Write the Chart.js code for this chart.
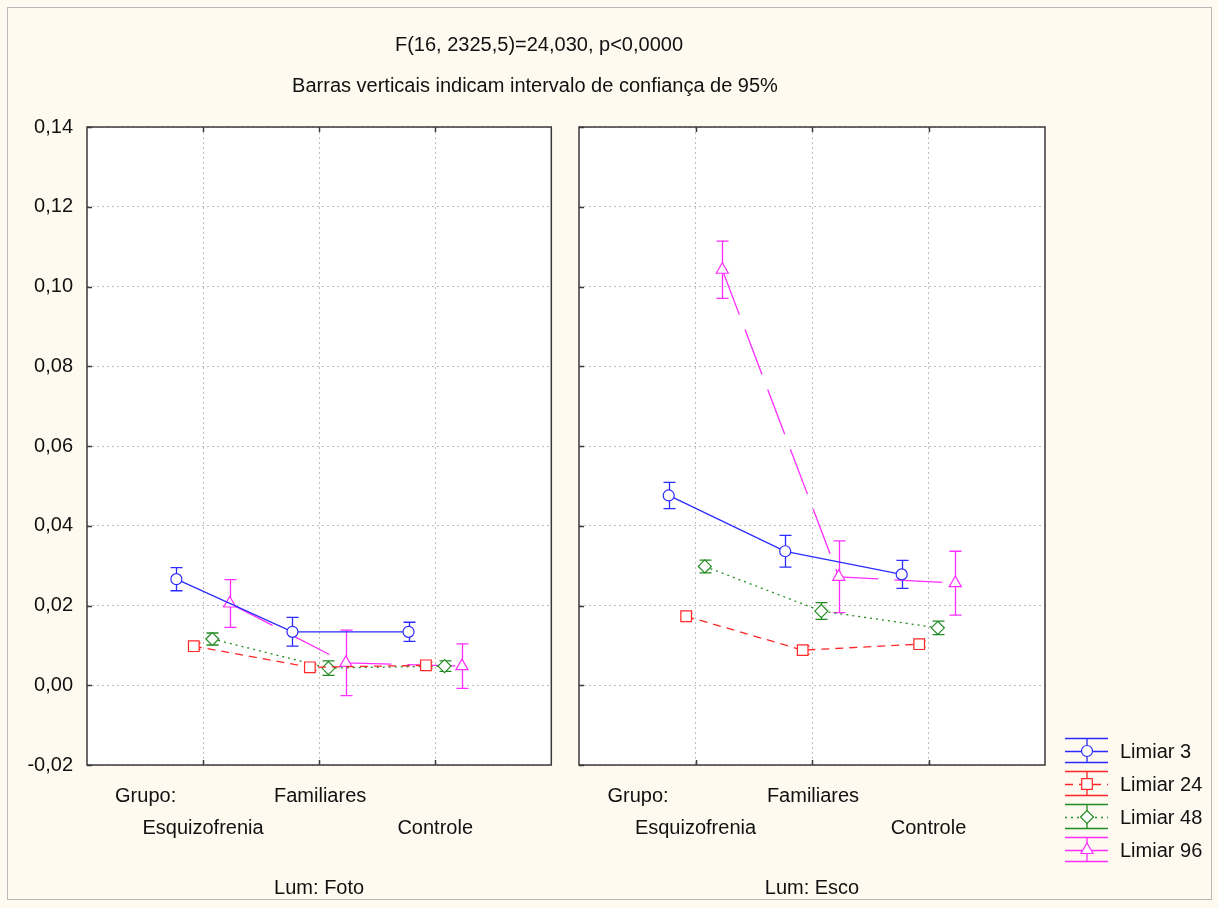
<!DOCTYPE html>
<html>
<head>
<meta charset="utf-8">
<script src="https://cdn.jsdelivr.net/npm/chart.js@4"></script>
<style>
  html, body { margin: 0; padding: 0; }
  body { width: 1218px; height: 908px; background: #fefaf0; position: relative; overflow: hidden;
         font-family: "Liberation Sans", Arial, sans-serif; color: #111; }
  #frame { position: absolute; left: 7px; top: 7px; width: 1205px; height: 893px; border: 1px solid #b8b8b8; box-sizing: border-box; }
  canvas { position: absolute; top: 0; }
  #c1 { left: 0; }
  #c2 { left: 560px; }
  .txt { position: absolute; font-size: 20px; white-space: nowrap; line-height: 1; }
  .ctr { transform: translate(-50%, -50%); }
  .lft { transform: translate(0, -50%); }
</style>
</head>
<body>
<div id="frame"></div>
<canvas id="c1" width="560" height="908"></canvas>
<canvas id="c2" width="658" height="908"></canvas>

<div class="txt ctr" style="left:539px; top:44px;">F(16, 2325,5)=24,030, p&lt;0,0000</div>
<div class="txt ctr" style="left:535px; top:85px;">Barras verticais indicam intervalo de confiança de 95%</div>

<div id="labels"></div>

<script>
// categories and series
const groups = ['Esquizofrenia', 'Familiares', 'Controle'];
const panels = ['Lum: Foto', 'Lum: Esco'];
const seriesNames = ['Limiar 3', 'Limiar 24', 'Limiar 48', 'Limiar 96'];
const yTicks = [-0.02, 0.00, 0.02, 0.04, 0.06, 0.08, 0.10, 0.12, 0.14];

// Lum: Foto - means and 95% CI half widths
const fotoLimiar3 = [0.0266, 0.0134, 0.0134];
const fotoLimiar3Err = [0.0029, 0.0036, 0.0024];
const fotoLimiar24 = [0.0098, 0.0045, 0.0050];
const fotoLimiar24Err = [0.0008, 0.0008, 0.0008];
const fotoLimiar48 = [0.0116, 0.0043, 0.0048];
const fotoLimiar48Err = [0.0015, 0.0018, 0.0013];
const fotoLimiar96 = [0.0205, 0.0056, 0.0048];
const fotoLimiar96Err = [0.0060, 0.0082, 0.0056];

// Lum: Esco
const escoLimiar3 = [0.0476, 0.0336, 0.0278];
const escoLimiar3Err = [0.0033, 0.0040, 0.0035];
const escoLimiar24 = [0.0173, 0.0088, 0.0103];
const escoLimiar24Err = [0.0008, 0.0010, 0.0008];
const escoLimiar48 = [0.0298, 0.0186, 0.0144];
const escoLimiar48Err = [0.0016, 0.0021, 0.0017];
const escoLimiar96 = [0.1042, 0.0272, 0.0256];
const escoLimiar96Err = [0.0072, 0.0090, 0.0080];

const fotoMeans = [fotoLimiar3, fotoLimiar24, fotoLimiar48, fotoLimiar96];
const fotoErrs = [fotoLimiar3Err, fotoLimiar24Err, fotoLimiar48Err, fotoLimiar96Err];
const escoMeans = [escoLimiar3, escoLimiar24, escoLimiar48, escoLimiar96];
const escoErrs = [escoLimiar3Err, escoLimiar24Err, escoLimiar48Err, escoLimiar96Err];

// look of each series
const colors = ['#2b2bff', '#ff2626', '#228b22', '#ff2cff'];
const dashes = [[], [8, 6], [2, 4], [48, 16]];
const markers = ['circle', 'rect', 'rectRot', 'triangle'];
const radii = [5.5, 7.5, 6.5, 7];
const offsets = [-0.23, -0.08, 0.08, 0.23];

const fmt = v => v.toFixed(2).replace('.', ',');

function makeDatasets(means, errs) {
    return seriesNames.map((name, s) => ({
        label: name,
        data: means[s].map((v, i) => ({ x: i + 1 + offsets[s], y: v })),
        errs: errs[s],
        borderColor: colors[s],
        borderWidth: 1.3,
        borderDash: dashes[s],
        pointStyle: markers[s],
        pointRadius: radii[s],
        pointBorderWidth: 1.2,
        pointBorderColor: colors[s],
        pointBackgroundColor: '#ffffff',
        tension: 0,
        fill: false
    }));
}

// white plot area + frame + inner ticks
const plotFrame = {
    id: 'plotFrame',
    beforeDraw(chart) {
        const a = chart.chartArea, ctx = chart.ctx;
        ctx.save();
        ctx.fillStyle = '#ffffff';
        ctx.fillRect(a.left, a.top, a.right - a.left, a.bottom - a.top);
        ctx.restore();
    },
    afterDraw(chart) {
        const a = chart.chartArea, ctx = chart.ctx;
        ctx.save();
        ctx.strokeStyle = '#3a3a3a';
        ctx.lineWidth = 1.5;
        ctx.strokeRect(a.left, a.top, a.right - a.left, a.bottom - a.top);
        ctx.beginPath();
        chart.scales.x.ticks.forEach(t => {
            const px = Math.round(chart.scales.x.getPixelForValue(t.value)) + 0.5;
            ctx.moveTo(px, a.bottom); ctx.lineTo(px, a.bottom - 5);
            ctx.moveTo(px, a.top); ctx.lineTo(px, a.top + 5);
        });
        chart.scales.y.ticks.forEach(t => {
            const py = Math.round(chart.scales.y.getPixelForValue(t.value)) + 0.5;
            ctx.moveTo(a.left, py); ctx.lineTo(a.left + 5, py);
        });
        ctx.stroke();
        ctx.restore();
    }
};

// vertical 95% CI bars
const errorBars = {
    id: 'errorBars',
    beforeDatasetsDraw(chart) {
        const ctx = chart.ctx, ys = chart.scales.y;
        chart.data.datasets.forEach((ds, di) => {
            const meta = chart.getDatasetMeta(di);
            ctx.save();
            ctx.strokeStyle = ds.borderColor;
            ctx.lineWidth = 1.3;
            meta.data.forEach((pt, i) => {
                const v = ds.data[i].y, e = ds.errs[i];
                const top = ys.getPixelForValue(v + e), bot = ys.getPixelForValue(v - e);
                const x = Math.round(pt.x) + 0.5;
                ctx.beginPath();
                ctx.moveTo(x, top); ctx.lineTo(x, bot);
                ctx.moveTo(x - 6, top); ctx.lineTo(x + 6, top);
                ctx.moveTo(x - 6, bot); ctx.lineTo(x + 6, bot);
                ctx.stroke();
            });
            ctx.restore();
        });
    }
};

// legend with error bar symbol, right of the second panel
const sideLegend = {
    id: 'sideLegend',
    afterDraw(chart) {
        if (!chart.options.plugins.sideLegend.show) return;
        const ctx = chart.ctx;
        const x0 = 505, x1 = 548, xc = 527, tx = 560;
        chart.data.datasets.forEach((ds, s) => {
            const yc = 751 + s * 33;
            ctx.save();
            ctx.strokeStyle = ds.borderColor;
            ctx.lineWidth = 1.3;
            ctx.beginPath();
            ctx.moveTo(x0, yc - 12.5); ctx.lineTo(x1, yc - 12.5);
            ctx.moveTo(x0, yc + 11.5); ctx.lineTo(x1, yc + 11.5);
            ctx.moveTo(xc, yc - 12); ctx.lineTo(xc, yc + 12);
            ctx.stroke();
            ctx.setLineDash(ds.borderDash);
            ctx.beginPath();
            ctx.moveTo(x0, yc + 0.5); ctx.lineTo(x1, yc + 0.5);
            ctx.stroke();
            ctx.setLineDash([]);
            ctx.fillStyle = '#ffffff';
            ctx.lineWidth = 1.2;
            Chart.helpers.drawPoint(ctx, { pointStyle: ds.pointStyle, radius: ds.pointRadius, borderWidth: 1.2 }, xc, yc);
            ctx.fillStyle = '#111';
            ctx.font = '20px "Liberation Sans", Arial, sans-serif';
            ctx.textBaseline = 'middle';
            ctx.fillText(ds.label, tx, yc + 1);
            ctx.restore();
        });
    }
};

function makeChart(id, means, errs, opts) {
    return new Chart(document.getElementById(id).getContext('2d'), {
        type: 'line',
        data: { datasets: makeDatasets(means, errs) },
        options: {
            responsive: false,
            animation: false,
            layout: { padding: { top: 127, right: opts.padRight, left: 0, bottom: 0 } },
            plugins: {
                legend: { display: false },
                tooltip: { enabled: false },
                sideLegend: { show: opts.legend }
            },
            scales: {
                x: {
                    type: 'linear', min: 0, max: 4,
                    afterBuildTicks: s => { s.ticks = groups.map((g, i) => ({ value: i + 1 })); },
                    afterFit: s => { s.height = 143; },
                    ticks: { display: false },
                    grid: { color: '#bdbdbd', lineWidth: 1, drawTicks: false },
                    border: { display: false, dash: [2, 3] }
                },
                y: {
                    type: 'linear', min: -0.02, max: 0.14,
                    afterBuildTicks: s => { s.ticks = yTicks.map(v => ({ value: v })); },
                    afterFit: s => { s.width = opts.yWidth; },
                    ticks: {
                        display: opts.yLabels, padding: 14, color: '#111',
                        font: { family: '"Liberation Sans", Arial, sans-serif', size: 20 },
                        callback: v => fmt(v)
                    },
                    grid: { color: '#bdbdbd', lineWidth: 1, drawTicks: false },
                    border: { display: false, dash: [2, 3] }
                }
            }
        },
        plugins: [plotFrame, errorBars, sideLegend]
    });
}

const chart1 = makeChart('c1', fotoMeans, fotoErrs, { padRight: 8, yWidth: 87, yLabels: true, legend: false });
const chart2 = makeChart('c2', escoMeans, escoErrs, { padRight: 173, yWidth: 19, yLabels: false, legend: true });

// group / panel labels under each plot, placed from the chart's own x scale
const labelBox = document.getElementById('labels');
function addLabel(text, left, top, cls) {
    const d = document.createElement('div');
    d.className = 'txt ' + cls;
    d.style.left = left + 'px';
    d.style.top = top + 'px';
    d.textContent = text;
    labelBox.appendChild(d);
}
[[chart1, 0], [chart2, 560]].forEach(([ch, off], p) => {
    const xs = ch.scales.x;
    const px = i => off + xs.getPixelForValue(i + 1);
    addLabel('Grupo:', px(0) - 88, 795, 'lft');
    addLabel(groups[0], px(0), 827, 'ctr');
    addLabel(groups[1], px(1) + 1, 795, 'ctr');
    addLabel(groups[2], px(2), 827, 'ctr');
    addLabel(panels[p], px(1), 887, 'ctr');
});
</script>
</body>
</html>
